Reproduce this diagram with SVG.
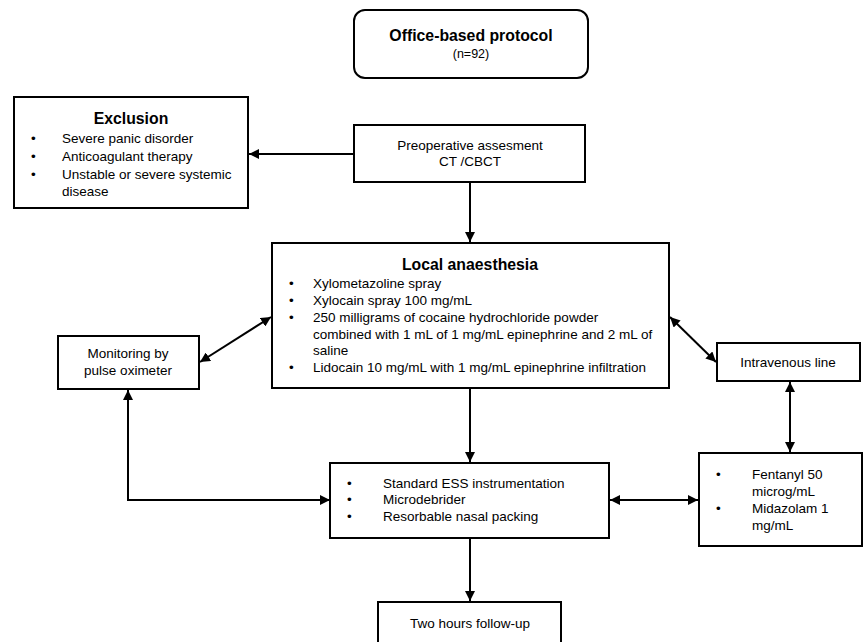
<svg xmlns="http://www.w3.org/2000/svg" width="864" height="642" viewBox="0 0 864 642">
<defs>
<marker id="ah" viewBox="0 0 10 10" refX="10" refY="5" markerWidth="5" markerHeight="5" orient="auto-start-reverse" markerUnits="strokeWidth">
<path d="M0,0 L10,5 L0,10 z" fill="#000"/>
</marker>
<style>
.box{fill:#fff;stroke:#000;stroke-width:2}
.t{font-family:"Liberation Sans",Arial,sans-serif;font-size:13.5px;fill:#000}
.c{text-anchor:middle}
.b{font-weight:bold;font-size:15.8px}
.ln{fill:none;stroke:#000;stroke-width:2}
</style>
</defs>
<rect width="864" height="642" fill="#fff"/>
<g id="connectors">
<line class="ln" x1="354" y1="154" x2="249" y2="154" marker-end="url(#ah)"/>
<line class="ln" x1="470" y1="182" x2="470" y2="242" marker-end="url(#ah)"/>
<line class="ln" x1="200" y1="362" x2="271" y2="317" marker-start="url(#ah)" marker-end="url(#ah)"/>
<line class="ln" x1="670" y1="317" x2="716" y2="362" marker-start="url(#ah)" marker-end="url(#ah)"/>
<line class="ln" x1="790" y1="382" x2="790" y2="452" marker-start="url(#ah)" marker-end="url(#ah)"/>
<polyline class="ln" points="128,390 128,500 330,500" marker-start="url(#ah)" marker-end="url(#ah)"/>
<line class="ln" x1="610" y1="500" x2="698" y2="500" marker-start="url(#ah)" marker-end="url(#ah)"/>
<line class="ln" x1="470" y1="388" x2="470" y2="462" marker-end="url(#ah)"/>
<line class="ln" x1="470" y1="538" x2="470" y2="601" marker-end="url(#ah)"/>
</g>
<g id="office">
<rect class="box" x="354" y="10" width="234" height="68" rx="11"/>
<text class="t c b" x="471" y="41">Office-based protocol</text>
<text class="t c" x="471" y="58" style="font-size:12.5px">(n=92)</text>
</g>
<g id="exclusion">
<rect class="box" x="14" y="97" width="234" height="111"/>
<text class="t c b" x="131" y="124">Exclusion</text>
<text class="t" x="31" y="143">•</text><text class="t" x="62" y="143">Severe panic disorder</text>
<text class="t" x="31" y="161">•</text><text class="t" x="62" y="161">Anticoagulant therapy</text>
<text class="t" x="31" y="179">•</text><text class="t" x="62" y="179">Unstable or severe systemic</text>
<text class="t" x="62" y="196">disease</text>
</g>
<g id="preop">
<rect class="box" x="354" y="125" width="231" height="57"/>
<text class="t c" x="470" y="150">Preoperative assesment</text>
<text class="t c" x="470" y="166">CT /CBCT</text>
</g>
<g id="local">
<rect class="box" x="272" y="243" width="397" height="145"/>
<text class="t c b" x="470" y="270">Local anaesthesia</text>
<text class="t" x="289" y="288">•</text><text class="t" x="313" y="288">Xylometazoline spray</text>
<text class="t" x="289" y="305">•</text><text class="t" x="313" y="305">Xylocain spray 100 mg/mL</text>
<text class="t" x="289" y="322">•</text><text class="t" x="313" y="322">250 milligrams of cocaine hydrochloride powder</text>
<text class="t" x="313" y="339">combined with 1 mL of 1 mg/mL epinephrine and 2 mL of</text>
<text class="t" x="313" y="355">saline</text>
<text class="t" x="289" y="372">•</text><text class="t" x="313" y="372">Lidocain 10 mg/mL with 1 mg/mL epinephrine infiltration</text>
</g>
<g id="monitoring">
<rect class="box" x="58" y="336" width="141" height="53"/>
<text class="t c" x="128" y="358">Monitoring by</text>
<text class="t c" x="128" y="375">pulse oximeter</text>
</g>
<g id="iv">
<rect class="box" x="717" y="343" width="143" height="38"/>
<text class="t c" x="788" y="367">Intravenous line</text>
</g>
<g id="ess">
<rect class="box" x="330" y="463" width="279" height="75"/>
<text class="t" x="347" y="488">•</text><text class="t" x="383" y="488">Standard ESS instrumentation</text>
<text class="t" x="347" y="504">•</text><text class="t" x="383" y="504">Microdebrider</text>
<text class="t" x="347" y="521">•</text><text class="t" x="383" y="521">Resorbable nasal packing</text>
</g>
<g id="drugs">
<rect class="box" x="699" y="453" width="163" height="93"/>
<text class="t" x="716" y="479">•</text><text class="t" x="752" y="479">Fentanyl 50</text>
<text class="t" x="752" y="496">microg/mL</text>
<text class="t" x="716" y="513">•</text><text class="t" x="752" y="513">Midazolam 1</text>
<text class="t" x="752" y="530">mg/mL</text>
</g>
<g id="followup">
<rect class="box" x="378" y="602" width="183" height="50"/>
<text class="t c" x="470" y="628">Two hours follow-up</text>
</g>
</svg>
